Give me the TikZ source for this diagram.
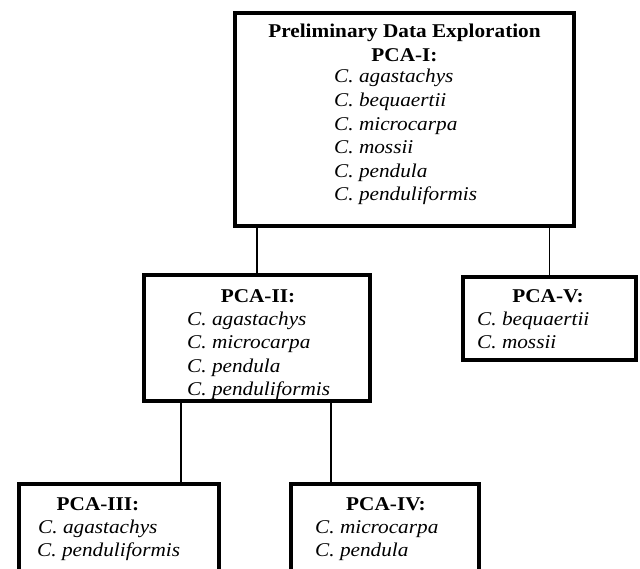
\documentclass[tikz,border=0pt]{standalone}
\usepackage{fontspec}
\setmainfont[FakeStretch=1.09]{Liberation Serif}
\begin{document}
\begin{tikzpicture}[x=1pt,y=-1pt,
  box/.style={draw=black, line width=4pt, rectangle, inner sep=0pt, outer sep=0pt, fill=white},
  conn/.style={draw=black, line width=1.4pt},
  ttl/.style={font=\fontsize{19.5}{23.5}\selectfont\bfseries, anchor=base, inner sep=0pt},
  sp/.style={font=\fontsize{19.5}{23.5}\selectfont\itshape, anchor=base west, inner sep=0pt}]
\useasboundingbox[fill=white] (0,0) rectangle (640,568);
% boxes
\node[box, minimum width=339pt, minimum height=213pt] (top) at (404.5,119.5) {};
\node[box, minimum width=226pt, minimum height=126pt] (p2) at (257,338) {};
\node[box, minimum width=173pt, minimum height=83pt] (p5) at (549.5,318.5) {};
\node[box, minimum width=200pt, minimum height=126pt] (p3) at (119,547) {};
\node[box, minimum width=188pt, minimum height=126pt] (p4) at (385,547) {};
% connector positions
\coordinate (c3) at (181,0);
\coordinate (c4) at (331,0);
\draw[conn] (top.south -| p2.north) -- (p2.north);
\draw[conn] (top.south -| p5.north) -- (p5.north);
\draw[conn] (p2.south -| c3) -- (p3.north -| c3);
\draw[conn] (p2.south -| c4) -- (p4.north -| c4);
% top box text
\node[ttl] (t0) at (404.5,37) {Preliminary Data Exploration};
\node[ttl] (t1) at (404.5,61) {PCA-I:};
\node[sp] (t2) at (334,82) {C. agastachys};
\node[sp] (t3) at (334,106) {C. bequaertii};
\node[sp] (t4) at (334,130) {C. microcarpa};
\node[sp] (t5) at (334,153) {C. mossii};
\node[sp] (t6) at (334,177) {C. pendula};
\node[sp] (t7) at (334,200) {C. penduliformis};
% PCA-II
\node[ttl] (a1) at (258,302) {PCA-II:};
\node[sp] (a2) at (187,325) {C. agastachys};
\node[sp] (a3) at (187,348) {C. microcarpa};
\node[sp] (a4) at (187,372) {C. pendula};
\node[sp] (a5) at (187,395) {C. penduliformis};
% PCA-V
\node[ttl] (v1) at (548,302) {PCA-V:};
\node[sp] (v2) at (477,325) {C. bequaertii};
\node[sp] (v3) at (477,348) {C. mossii};
% PCA-III
\node[ttl] (b1) at (98,510) {PCA-III:};
\node[sp] (b2) at (38,533) {C. agastachys};
\node[sp] (b3) at (37,556) {C. penduliformis};
% PCA-IV
\node[ttl] (d1) at (386,510) {PCA-IV:};
\node[sp] (d2) at (315,533) {C. microcarpa};
\node[sp] (d3) at (315,556) {C. pendula};
\end{tikzpicture}
\end{document}
